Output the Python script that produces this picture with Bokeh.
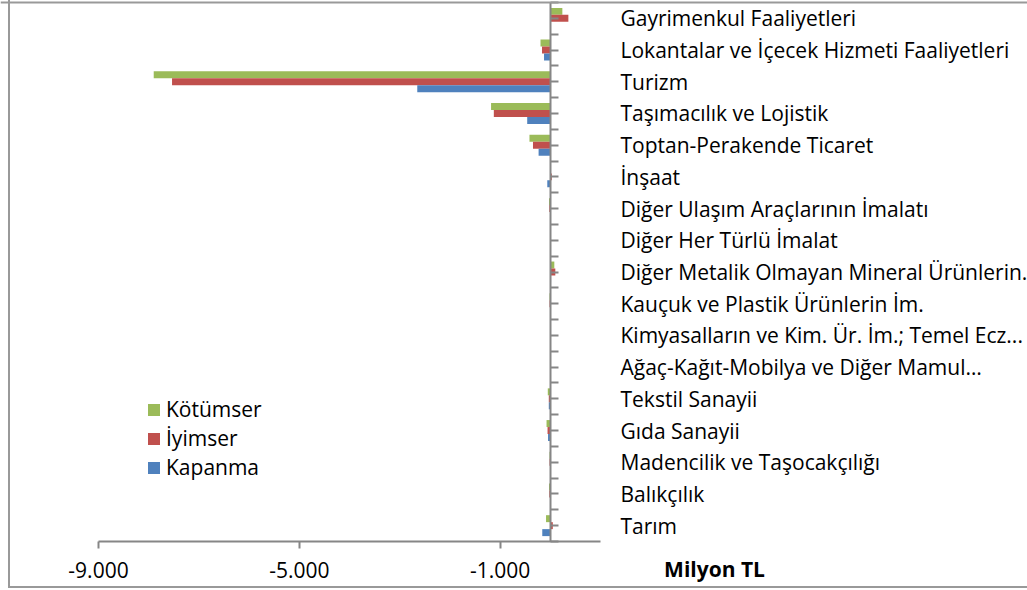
from bokeh.plotting import figure
from bokeh.models import (FixedTicker, Legend, LegendItem, Label, LinearAxis,
                          ColumnDataSource, Range1d, Span)
from bokeh.transform import dodge
from bokeh.embed import file_html
from bokeh.resources import INLINE

# ---------------- data ----------------
categories = [
    "Gayrimenkul Faaliyetleri",
    "Lokantalar  ve İçecek Hizmeti Faaliyetleri",
    "Turizm",
    "Taşımacılık ve Lojistik",
    "Toptan-Perakende Ticaret",
    "İnşaat",
    "Diğer Ulaşım Araçlarının İmalatı",
    "Diğer Her Türlü İmalat",
    "Diğer Metalik Olmayan Mineral Ürünlerin...",
    "Kauçuk ve Plastik Ürünlerin İm.",
    "Kimyasalların ve Kim. Ür. İm.; Temel Ecz...",
    "Ağaç-Kağıt-Mobilya ve Diğer Mamul…",
    "Tekstil Sanayii",
    "Gıda Sanayii",
    "Madencilik ve Taşocakçılığı",
    "Balıkçılık",
    "Tarım",
]
kotumser = [240, -195, -7900, -1180, -415, 0, -25, -5, 80, -15, 0, 0, -50, -75, -15, -25, -85]
iyimser = [360, -165, -7535, -1125, -345, 30, -20, -5, 100, -15, 0, 0, -30, -55, -15, -20, 50]
kapanma = [0, -125, -2650, -460, -233, -60, 0, 0, 15, 0, 0, 0, -30, -45, 0, 0, -160]
series_names = ["Kötümser", "İyimser", "Kapanma"]
x_ticks = [-9000, -5000, -1000]
x_tick_labels = ["-9.000", "-5.000", "-1.000"]
x_title = "Milyon TL"

# ---------------- layout / styling ----------------
GREEN, RED, BLUE = "#9BBB59", "#C0504D", "#4F81BD"
AXIS = "#868686"
BORDER = "#999999"
FONT = "Open Sans"
FS = "21px"
W, H = 1027, 590
X_MIN, X_MAX = -9000, 1000
PX_L, PX_R = 98, 600          # pixel columns of X_MIN and X_MAX
PY_T, PY_B = 2, 541           # pixel rows of top / bottom category edges

n = len(categories)
ypos = [n - 1 - i for i in range(n)]
bar_h = 0.22

upx = (X_MAX - X_MIN) / (PX_R - PX_L)
upy = n / (PY_B - PY_T)
x_range = Range1d(X_MIN - PX_L * upx, X_MAX + (W - PX_R) * upx)
y_range = Range1d(-0.5 - (H - PY_B) * upy, n - 0.5 + PY_T * upy)

src = ColumnDataSource(dict(y=ypos, kot=kotumser, iyi=iyimser, kap=kapanma))

p = figure(width=W, height=H, output_backend="svg", toolbar_location=None,
           x_range=x_range, y_range=y_range, y_axis_location="right",
           min_border=0, min_border_left=0, min_border_right=0,
           min_border_top=0, min_border_bottom=0)
p.outline_line_color = None
p.border_fill_alpha = 0
p.background_fill_alpha = 0
p.styles = {
    "background-color": "white",
    "box-shadow": ("inset 8px 0 0 0 #ffffff, inset 0 -2px 0 0 #ffffff, "
                   "inset 10px 0 0 0 #999999, inset 0 -4px 0 0 #999999"),
}
p.xgrid.visible = False
p.ygrid.visible = False

# chart border, top edge
p.add_layout(Span(location=n - 0.5, dimension="width", line_color=BORDER, line_width=2))

r_k = p.hbar(y=dodge("y", bar_h, range=p.y_range), left=0, right="kot", height=bar_h,
             source=src, fill_color=GREEN, line_color=None)
r_i = p.hbar(y=dodge("y", 0, range=p.y_range), left=0, right="iyi", height=bar_h,
             source=src, fill_color=RED, line_color=None)
r_b = p.hbar(y=dodge("y", -bar_h, range=p.y_range), left=0, right="kap", height=bar_h,
             source=src, fill_color=BLUE, line_color=None)

# x axis, drawn at the bottom edge of the categories
xa = p.xaxis[0]
xa.fixed_location = -0.5
xa.bounds = (X_MIN, X_MAX)
xa.ticker = FixedTicker(ticks=x_ticks)
xa.major_label_overrides = {t: l for t, l in zip(x_ticks, x_tick_labels)}
xa.minor_tick_line_color = None
xa.major_tick_in = 0
xa.major_tick_out = 7
xa.major_tick_line_color = AXIS
xa.major_tick_line_width = 2
xa.axis_line_color = AXIS
xa.axis_line_width = 2
xa.major_label_text_font = FONT
xa.major_label_text_font_size = FS
xa.major_label_text_color = "#000000"
xa.major_label_standoff = 13

# category labels to the right of the value range
ya = p.yaxis[0]
ya.fixed_location = X_MAX
ya.bounds = (-0.5, n - 0.5)
ya.ticker = FixedTicker(ticks=ypos)
ya.major_label_overrides = {y: c for y, c in zip(ypos, categories)}
ya.axis_line_color = None
ya.major_tick_line_color = None
ya.minor_tick_line_color = None
ya.major_label_standoff = 14
ya.major_label_text_font = FONT
ya.major_label_text_font_size = FS
ya.major_label_text_color = "#000000"

# category axis line at zero, with tick marks every half category
tick_y = [-0.5 + 0.5 * k for k in range(2 * n + 1)]
za = LinearAxis(fixed_location=0, bounds=(-0.5, n - 0.5),
                ticker=FixedTicker(ticks=tick_y))
za.axis_line_color = AXIS
za.axis_line_width = 2
za.major_tick_line_color = AXIS
za.major_tick_line_width = 2
za.major_tick_in = 8
za.major_tick_out = 0
za.minor_tick_line_color = None
za.major_label_text_font_size = "0px"
za.major_label_text_alpha = 0
p.add_layout(za, "left")

# axis title to the right of the tick labels
p.add_layout(Label(x=X_MIN + (714 - PX_L) * upx, y=-0.5 - (568 - PY_B) * upy,
                   text=x_title, text_font=FONT, text_font_size=FS,
                   text_font_style="bold", text_align="center",
                   text_baseline="middle", text_color="#000000"))

legend = Legend(items=[LegendItem(label=series_names[0], renderers=[r_k]),
                       LegendItem(label=series_names[1], renderers=[r_i]),
                       LegendItem(label=series_names[2], renderers=[r_b])],
                location=(146, 109), orientation="vertical")
legend.border_line_color = None
legend.background_fill_alpha = 0
legend.padding = 0
legend.margin = 0
legend.spacing = 1
legend.glyph_width = 15
legend.glyph_height = 15
legend.label_height = 20
legend.label_standoff = 5
legend.label_text_font = FONT
legend.label_text_font_size = FS
legend.label_text_color = "#000000"
p.add_layout(legend)

open("out.html", "w").write(file_html(p, INLINE))
